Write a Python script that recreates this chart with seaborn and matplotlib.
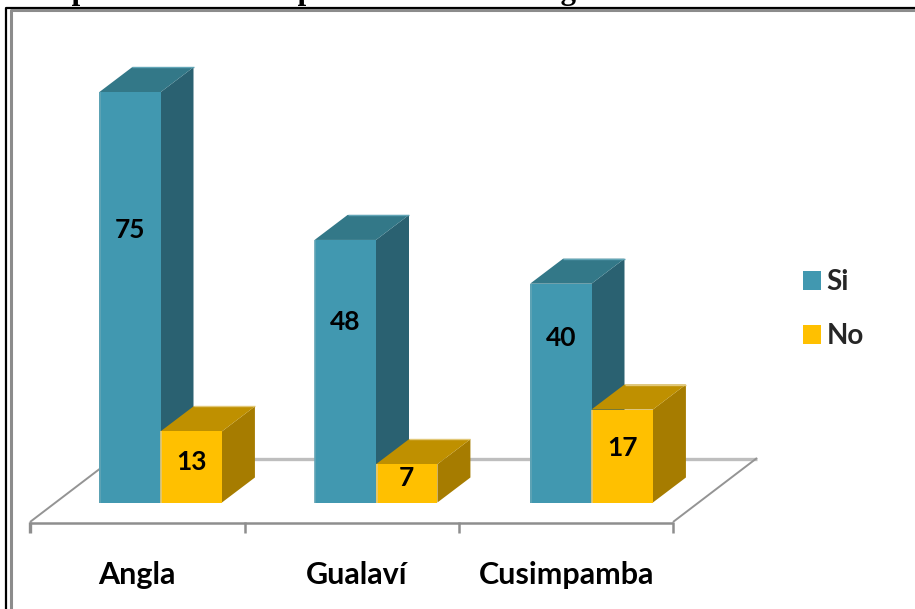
import matplotlib
matplotlib.use("Agg")
import matplotlib.pyplot as plt
from matplotlib.patches import Polygon
from matplotlib.transforms import Affine2D
import pandas as pd
import seaborn as sns

# Survey counts per community
communities = ["Angla", "Gualaví", "Cusimpamba"]
answers = ["Si", "No"]
si_counts = [75, 48, 40]
no_counts = [13, 7, 17]
heading = "Compromisos con las prácticas de las mingas"

FRONT = {"Si": "#4198B0", "No": "#FFC000"}
TOP = {"Si": "#337888", "No": "#BF9000"}
SIDE = {"Si": "#2A6171", "No": "#A67C00"}
EDGE = {"Si": "#62A5B6", "No": "#E2C878"}
W, H = 915, 609
BASE_PX, PX_PER_UNIT = 502.5, 5.47
FIRST_PX, STEP_PX = 160.5, 215.5
DEPTH_X, DEPTH_Y = 33, 25

df = pd.DataFrame({
    "community": communities * 2,
    "answer": ["Si"] * 3 + ["No"] * 3,
    "count": si_counts + no_counts,
})

sns.set_theme(style="white")
plt.rcParams["font.family"] = ["Lato", "DejaVu Sans"]

fig = plt.figure(figsize=(W / 100, H / 100), dpi=100, facecolor="white")
ax = fig.add_axes([0, 0, 1, 1])
sns.barplot(data=df, x="community", y="count", hue="answer", order=communities,
            hue_order=answers, palette=FRONT, width=0.57, saturation=1,
            linewidth=0, ax=ax)
ax.set_xlim(-FIRST_PX / STEP_PX, (W - FIRST_PX) / STEP_PX)
ax.set_ylim((BASE_PX - H) / PX_PER_UNIT, BASE_PX / PX_PER_UNIT)
ax.axis("off")

# Screen-pixel coordinates for the floor and the frame
px = Affine2D().scale(1 / W, -1 / H).translate(0, 1) + fig.transFigure


def px_line(xs, ys, color, lw, z=1, cap="butt"):
    ax.plot(xs, ys, color=color, lw=lw, transform=px, zorder=z,
            solid_capstyle=cap, clip_on=False)


# Outer frame: black rule with a grey rule inside it
px_line([6, 6, W], [H, 8, 8], "black", 1.6, z=8)
px_line([10.5, 10.5, W], [H, 10, 10], "#8C8C8C", 2.2, z=8)

# Floor of the 3D scene
px_line([114, 757], [458.5, 458.5], "#BEBEBE", 2.4)
px_line([30, 114], [522, 458], "#949494", 1.4)
px_line([673, 757], [522, 458], "#949494", 1.4)
px_line([29, 673], [522.5, 522.5], "#8E8E8E", 1.8)
for tick_x, tick_w in zip([30, 245, 459, 673], [2.4, 1.8, 1.8, 1.8]):
    px_line([tick_x, tick_x], [522, 532.5], "#8E8E8E", tick_w)

# Extrude each front face into a box and write its value on it
dx = DEPTH_X / STEP_PX
dy = DEPTH_Y / PX_PER_UNIT
label_rise = {"Si": [273, 181, 165], "No": [40, 24, 54]}
for level, (answer, container) in enumerate(zip(answers, ax.containers)):
    base_z = 3 + 3 * level
    for rise, bar in zip(label_rise[answer], container):
        x0, x1 = bar.get_x(), bar.get_x() + bar.get_width()
        top = bar.get_height()
        bar.set_zorder(base_z + 2)
        ax.add_patch(Polygon([(x1, 0), (x1 + dx, dy), (x1 + dx, top + dy), (x1, top)],
                             closed=True, fc=SIDE[answer], ec="none", zorder=base_z))
        ax.add_patch(Polygon([(x0, top), (x0 + dx, top + dy), (x1 + dx, top + dy), (x1, top)],
                             closed=True, fc=TOP[answer], ec="none", zorder=base_z + 1))
        # Soft highlights along the left edge and the back of the lid
        ax.plot([x0 + 0.003, x0 + 0.003], [0, top], color=EDGE[answer], lw=1.2,
                zorder=base_z + 2.5, solid_capstyle="butt")
        ax.plot([x0 + dx, x1 + dx], [top + dy, top + dy], color=EDGE[answer], lw=1.0,
                zorder=base_z + 1.5, solid_capstyle="butt")
        ax.text((x0 + x1) / 2, rise / PX_PER_UNIT, f"{top:.0f}", ha="center", va="center",
                fontsize=19, fontweight="bold", color="black", zorder=12)

# Community names sit under the front edge of the floor
name_nudge = [-23.5, -19, -24.5]
for i, (name, nudge) in enumerate(zip(communities, name_nudge)):
    ax.text(i + nudge / STEP_PX, (BASE_PX - 584) / PX_PER_UNIT, name, ha="center", va="baseline",
            fontsize=22, fontweight="bold", color="black")

handles, labels = ax.get_legend_handles_labels()
ax.legend(handles, labels, loc="upper left", bbox_to_anchor=(803 / W, 1 - 269 / H),
          bbox_transform=fig.transFigure, frameon=False,
          handlelength=0.65, handleheight=0.65, handletextpad=0.2,
          labelspacing=1.02, borderpad=0, borderaxespad=0,
          prop={"weight": "bold", "size": 20})

# Heading running off the top edge
fig.text(8 / W, 1 + 0.5 / H, heading, family=["Liberation Serif"], fontweight="bold",
         fontsize=22.3, ha="left", va="baseline", color="black")

fig.savefig("out.png", dpi=100)
